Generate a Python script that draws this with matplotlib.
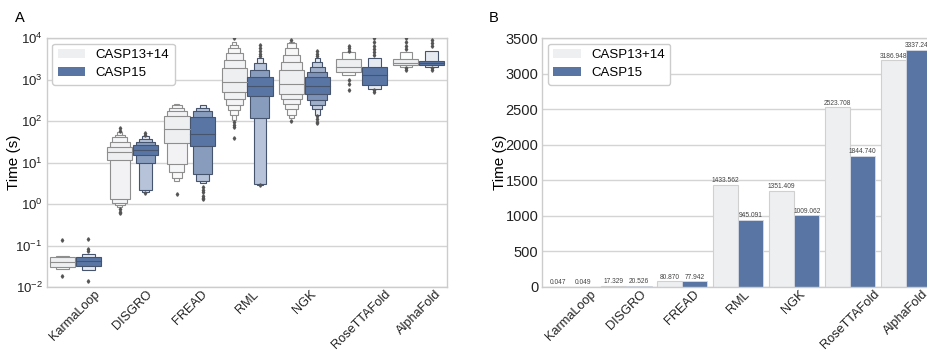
import numpy as np
import matplotlib
matplotlib.use("Agg")
import matplotlib.pyplot as plt
from matplotlib.colors import to_rgb
from matplotlib.patches import Patch

plt.rcParams['font.family'] = ['Liberation Sans', 'DejaVu Sans']
plt.rcParams['mathtext.default'] = 'regular'

methods = ['KarmaLoop', 'DISGRO', 'FREAD', 'RML', 'NGK', 'RoseTTAFold', 'AlphaFold']
groups = ['CASP13+14', 'CASP15']

# letter-value boxes (low, high), innermost level first
casp1314_levels = [
    [(0.031, 0.052), (0.027, 0.057)],
    [(11.8, 24), (1.29, 31.6), (1.04, 41), (0.94, 46), (0.87, 53)],
    [(30, 133), (9.3, 173), (5.9, 210), (4.2, 240), (3.5, 264)],
    [(500, 1860), (345, 2940), (238, 4270), (180, 5650), (138, 6800), (105, 8150)],
    [(460, 1700), (345, 2700), (257, 3870), (190, 5650), (138, 7450), (115, 8200)],
    [(1550, 3050), (1320, 4500)],
    [(2240, 3100), (2030, 4500)],
]
casp1314_medians = [0.040, 17.5, 65, 850, 800, 2000, 2550]
casp1314_outliers = [
    [0.136, 0.018],
    [66, 58, 0.76, 0.65, 0.6],
    [1.7],
    [9800, 95, 80, 70, 38],
    [8800, 100],
    [6400, 5650, 4900, 1000, 800, 550],
    [9800, 8000, 6500, 5500, 1900, 1700],
]

casp15_levels = [
    [(0.032, 0.053), (0.025, 0.064)],
    [(15, 26), (10, 31), (2.2, 37), (2.0, 44)],
    [(25, 126), (5.3, 170), (3.5, 203), (3.2, 243)],
    [(405, 1160), (115, 1740), (3.1, 2440), (2.9, 3240)],
    [(445, 1120), (315, 1540), (240, 2040), (192, 2700), (138, 3240)],
    [(730, 1950), (600, 3240)],
    [(2200, 2850), (2050, 5000)],
]
casp15_medians = [0.042, 20, 48, 690, 690, 1300, 2500]
casp15_outliers = [
    [0.14, 0.083, 0.072, 0.014],
    [50, 46, 1.8],
    [2.6, 2.2, 1.9, 1.6, 1.4, 1.3],
    [6800, 5600, 4800, 4200, 3700, 2.8],
    [4800, 4200, 3700, 130, 110, 95, 88],
    [9800, 8000, 6500, 5500, 4500, 3800, 550, 500],
    [8800, 7500, 6500, 1900, 1700],
]

# mean times, panel B
casp1314_mean = [0.047, 17.329, 80.870, 1433.562, 1351.409, 2523.708, 3186.948]
casp15_mean = [0.049, 20.526, 77.942, 945.091, 1009.062, 1844.740, 3337.241]

gray = '#EEEFF1'
blue = '#5975A4'


def lighten(c, t):
    c = np.array(to_rgb(c))
    return tuple(c + (1 - c) * t)


def draw_boxen(ax, x, levels, median, outliers, color, edge, w):
    n = len(levels)
    for i in range(n - 1, -1, -1):
        lo, hi = levels[i]
        t = 0.85 * i / max(n - 1, 1)
        ax.bar(x, hi - lo, bottom=lo, width=w * (n - i) / n,
               color=lighten(color, t), edgecolor=edge, linewidth=0.8, zorder=2)
    ax.plot([x - w / 2, x + w / 2], [median, median], color=edge, lw=0.8, zorder=3)
    ax.plot([x] * len(outliers), outliers, ls='none', marker='d', ms=1.8,
            color='#555555', zorder=3)


fig = plt.figure(figsize=(9.27, 3.5), dpi=100)
ax1 = fig.add_axes([0.0504, 0.18, 0.4322, 0.7114])
ax2 = fig.add_axes([0.5852, 0.18, 0.4223, 0.7114])

xs = np.arange(len(methods))
bw = 0.44
for i in xs:
    draw_boxen(ax1, i - 0.225, casp1314_levels[i], casp1314_medians[i],
               casp1314_outliers[i], gray, '#8e8e8e', bw)
    draw_boxen(ax1, i + 0.225, casp15_levels[i], casp15_medians[i],
               casp15_outliers[i], blue, '#46546e', bw)

ax1.set_yscale('log')
ax1.set_ylim(1e-2, 1e4)
ax1.set_xlim(-0.5, len(methods) - 0.5)
ax1.yaxis.set_minor_locator(matplotlib.ticker.NullLocator())

b1 = ax2.bar(xs - 0.225, casp1314_mean, width=0.45, color=gray, edgecolor='#d0d0d0',
             linewidth=0.8, zorder=2)
b2 = ax2.bar(xs + 0.225, casp15_mean, width=0.45, color=blue, edgecolor='#d8dbe3',
             linewidth=0.6, zorder=2)
ax2.bar_label(b1, fmt='%.3f', fontsize=4.8, color='#444444', padding=0.5)
ax2.bar_label(b2, fmt='%.3f', fontsize=4.8, color='#444444', padding=0.5)
ax2.set_ylim(0, 3500)
ax2.set_yticks(np.arange(0, 3501, 500))
ax2.set_xlim(-0.5, len(methods) - 0.5)

for ax, lx, ysz in ((ax1, -0.064, 9.5), (ax2, -0.09, 10.5)):
    ax.set_xticks(xs)
    ax.set_xticklabels(methods, rotation=45, ha='center', fontsize=9.2)
    ax.tick_params(axis='x', length=0, pad=1, labelsize=9.2, colors='#222222')
    ax.tick_params(axis='y', length=0, pad=3, labelsize=ysz, colors='#222222')
    ax.yaxis.grid(True, color='#d4d4d4', lw=1)
    ax.xaxis.grid(False)
    ax.set_axisbelow(True)
    for s in ax.spines.values():
        s.set_color('#cccccc')
        s.set_linewidth(1)
    ax.set_ylabel('Time (s)', fontsize=11)
    ax.yaxis.set_label_coords(lx, 0.5)
    handles = [Patch(facecolor=gray, edgecolor='none'), Patch(facecolor=blue, edgecolor='none')]
    ax.legend(handles, groups, loc='upper left', bbox_to_anchor=(0.014, 0.977),
              borderaxespad=0, fontsize=9.5, handlelength=2.1, handletextpad=0.8,
              labelspacing=0.45, edgecolor='#cccccc', framealpha=1)

fig.text(0.016, 0.95, 'A', fontsize=10.5, va='center')
fig.text(0.527, 0.95, 'B', fontsize=10.5, va='center')

fig.savefig('out.png', dpi=100)
